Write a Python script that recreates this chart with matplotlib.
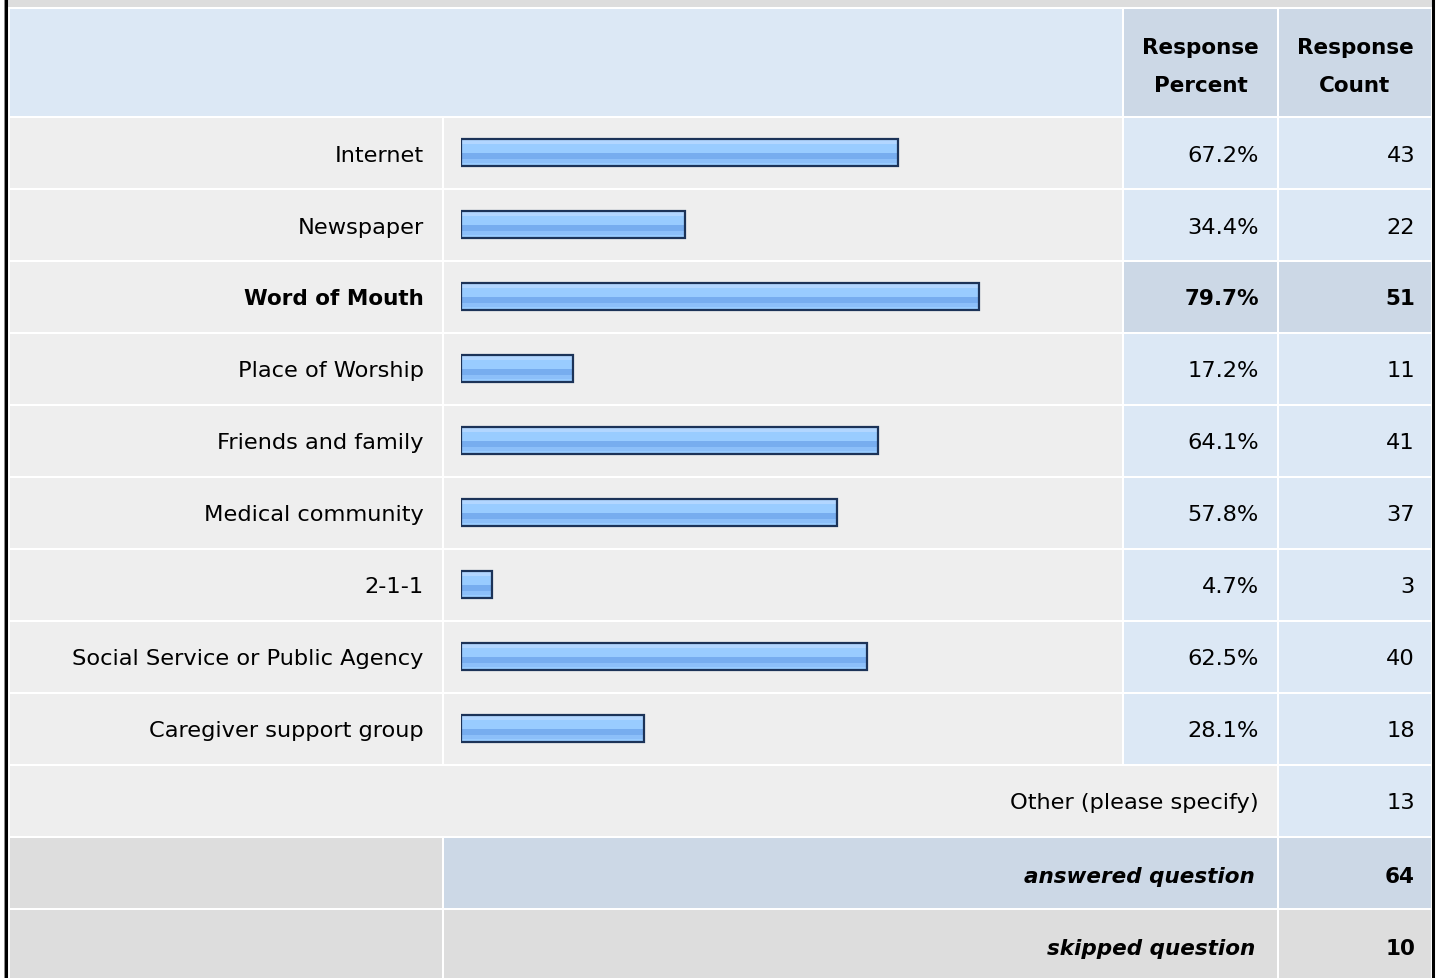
import matplotlib.pyplot as plt
import numpy as np
from matplotlib.patches import Rectangle

plt.rcParams['font.family'] = ['DejaVu Sans']

# Data
categories = ["Internet", "Newspaper", "Word of Mouth", "Place of Worship",
              "Friends and family", "Medical community", "2-1-1",
              "Social Service or Public Agency", "Caregiver support group"]
percents = [67.2, 34.4, 79.7, 17.2, 64.1, 57.8, 4.7, 62.5, 28.1]
counts = [43, 22, 51, 11, 41, 37, 3, 40, 18]
highlight = "Word of Mouth"
other_label = "Other (please specify)"
other_count = 13
answered = 64
skipped = 10

W, H = 1440, 979
fig = plt.figure(figsize=(W / 100, H / 100), dpi=100)
fig.patch.set_facecolor('white')

# table background in pixel coordinates
bg = fig.add_axes([0, 0, 1, 1])
bg.set_xlim(0, W)
bg.set_ylim(H, 0)
bg.axis('off')

LIGHT = '#dce8f5'
MID = '#ccd8e6'
GREY = '#eeeeee'
DARK = '#dddddd'
FS = 16.2   # regular text
FSB = 15.5  # bold text

def cell(x0, x1, y0, y1, color):
    bg.add_patch(Rectangle((x0, y0), x1 - x0, y1 - y0, facecolor=color, edgecolor='none'))

# column edges
c_lab = (10, 442)
c_bar = (444, 1122)
c_pct = (1124, 1277)
c_cnt = (1279, 1431)

# outer frame
cell(7, 1432, 0, 8, DARK)
bg.plot([6, 6], [0, H], color='black', lw=2.2)
bg.plot([1433, 1433], [0, H], color='black', lw=2.2)
bg.plot([4.3, 4.3], [0, H], color='#888888', lw=0.7)

# header
cell(10, c_bar[1], 10, 117, LIGHT)
cell(c_pct[0], c_pct[1], 10, 117, MID)
cell(c_cnt[0], c_cnt[1], 10, 117, MID)
for cx, word in [((c_pct[0] + c_pct[1]) / 2, "Percent"), ((c_cnt[0] + c_cnt[1]) / 2, "Count")]:
    bg.text(cx, 48, "Response", ha='center', va='center', fontsize=FSB, fontweight='bold')
    bg.text(cx, 86, word, ha='center', va='center', fontsize=FSB, fontweight='bold')

row_h = 72
top0 = 119
n = len(categories)
for i, (cat, p, c) in enumerate(zip(categories, percents, counts)):
    y0 = top0 + i * row_h
    y1 = y0 + row_h - 2
    yc = (y0 + y1) / 2 + 1.5
    hl = cat == highlight
    cell(*c_lab, y0, y1, GREY)
    cell(*c_bar, y0, y1, GREY)
    cell(*c_pct, y0, y1, MID if hl else LIGHT)
    cell(*c_cnt, y0, y1, MID if hl else LIGHT)
    w = 'bold' if hl else 'normal'
    fs = FSB if hl else FS
    bg.text(424, yc, cat, ha='right', va='center', fontsize=fs, fontweight=w)
    bg.text(1259, yc, f"{p:.1f}%", ha='right', va='center', fontsize=fs, fontweight=w)
    bg.text(1415, yc, str(c), ha='right', va='center', fontsize=fs, fontweight=w)

# other row
y0 = top0 + n * row_h
cell(10, c_pct[1], y0, y0 + 70, GREY)
cell(*c_cnt, y0, y0 + 70, LIGHT)
bg.text(1259, y0 + 36.5, other_label, ha='right', va='center', fontsize=FS)
bg.text(1415, y0 + 36.5, str(other_count), ha='right', va='center', fontsize=FS)

# answered / skipped rows
y0 = top0 + (n + 1) * row_h
cell(*c_lab, y0, y0 + 70, DARK)
cell(c_bar[0], c_pct[1], y0, y0 + 70, MID)
cell(*c_cnt, y0, y0 + 70, MID)
bg.text(1255, y0 + 38, "answered question", ha='right', va='center', fontsize=FSB,
        fontweight='bold', style='italic')
bg.text(1415, y0 + 38, str(answered), ha='right', va='center', fontsize=FSB, fontweight='bold')

y0 = top0 + (n + 2) * row_h
cell(*c_lab, y0, H, DARK)
cell(c_bar[0], c_pct[1], y0, H, DARK)
cell(*c_cnt, y0, H, DARK)
bg.text(1255, y0 + 38, "skipped question", ha='right', va='center', fontsize=FSB,
        fontweight='bold', style='italic')
bg.text(1415, y0 + 38, str(skipped), ha='right', va='center', fontsize=FSB, fontweight='bold')

# bar axes: 0-100% over x 461..1111 px, one row per category
bx0, bx1 = 461, 1111
by0, by1 = top0 - 2, top0 - 2 + n * row_h
ax = fig.add_axes([bx0 / W, 1 - by1 / H, (bx1 - bx0) / W, (by1 - by0) / H])
ax.set_xlim(0, 100)
ax.set_ylim(n - 0.5, -0.5)
ax.axis('off')
ax.patch.set_alpha(0)

bar_h = 0.375
ypos = np.arange(n)
grad = np.array([[0.78, 0.88, 1.0], [0.70, 0.84, 1.0], [0.70, 0.84, 1.0],
                 [0.60, 0.80, 1.0], [0.60, 0.80, 1.0], [0.60, 0.80, 1.0],
                 [0.60, 0.80, 1.0], [0.47, 0.68, 0.94], [0.47, 0.68, 0.94],
                 [0.47, 0.68, 0.94], [0.55, 0.75, 0.98], [0.55, 0.75, 0.98],
                 [0.60, 0.80, 1.0]])[:, None, :]
bars = ax.barh(ypos, percents, height=bar_h, color='none', edgecolor='#1c3358',
               linewidth=1.6, zorder=3)
for b in bars:
    x, y = b.get_x(), b.get_y()
    im = ax.imshow(grad, extent=(x, x + b.get_width(), y + b.get_height(), y),
                   aspect='auto', interpolation='nearest', zorder=2)
    im.set_clip_path(b)

fig.savefig('out.png', dpi=100)
